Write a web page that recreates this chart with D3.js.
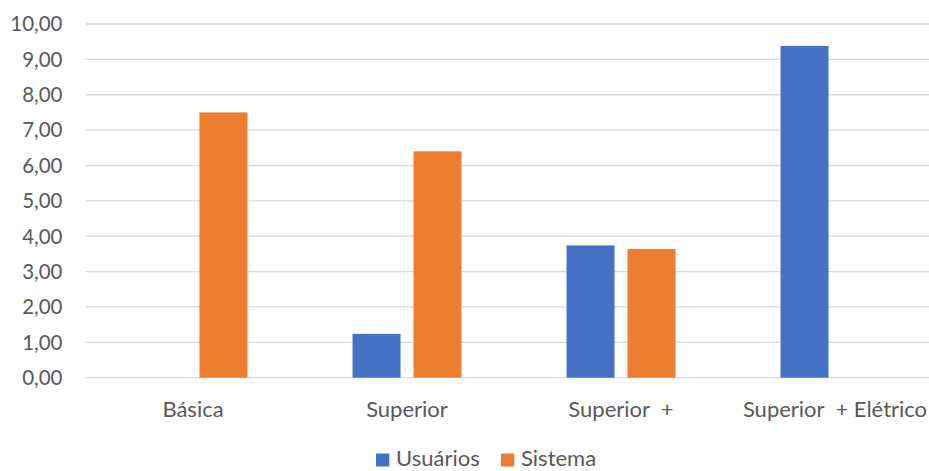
<!DOCTYPE html>
<html>
<head>
<meta charset="utf-8">
<script src="https://cdn.jsdelivr.net/npm/d3@7/dist/d3.min.js"></script>
<style>
  html, body { margin: 0; padding: 0; background: #fff; }
  svg { display: block; font-family: Lato, "Open Sans", sans-serif; }
  text { white-space: pre; }
</style>
</head>
<body>
<svg id="chart" width="929" height="471"></svg>
<script>
// Chart data
const categories = ["Básica", "Superior", "Superior  +", "Superior  + Elétrico"];
const seriesNames = ["Usuários", "Sistema"];
const usuarios = [0, 1.24, 3.74, 9.38];
const sistema = [7.50, 6.40, 3.64, 0];
const yTicks = [0, 1, 2, 3, 4, 5, 6, 7, 8, 9, 10];
const colors = ["#4472C4", "#ED7D31"];

const seriesValues = [usuarios, sistema];
const svg = d3.select("#chart");

const plotLeft = 86, plotRight = 942, plotTop = 24, plotBottom = 377.7;

const x = d3.scaleBand().domain(categories).range([plotLeft, plotRight]).paddingInner(0).paddingOuter(0);
const y = d3.scaleLinear().domain([0, 10]).range([plotBottom, plotTop]);

// Bar geometry: gap width 219%, overlap -27%
const gapWidth = 2.19, overlap = -0.27;
const barW = x.bandwidth() / (2 - overlap + gapWidth);
const groupW = barW * (2 - overlap);
const inner = d3.scaleOrdinal().domain(seriesNames)
  .range([0, barW * (1 - overlap)]);

// Gridlines
svg.append("g").selectAll("line").data(yTicks).join("line")
  .attr("x1", plotLeft).attr("x2", 929)
  .attr("y1", d => y(d)).attr("y2", d => y(d))
  .attr("stroke", "#d9d9d9").attr("stroke-width", 1.3);

// Y axis labels
const yFmt = d => d.toFixed(2).replace(".", ",");
svg.append("g").selectAll("text").data(yTicks).join("text")
  .attr("x", 62.5).attr("y", d => y(d)).attr("dy", "0.36em")
  .attr("text-anchor", "end")
  .attr("fill", "#595959").attr("font-size", 20.5)
  .text(yFmt);

// Bars
const rows = [];
seriesNames.forEach((s, si) => {
  categories.forEach((c, ci) => {
    rows.push({ series: s, si, cat: c, value: seriesValues[si][ci] });
  });
});
svg.append("g").selectAll("rect").data(rows.filter(d => d.value > 0)).join("rect")
  .attr("x", d => x(d.cat) + (x.bandwidth() - groupW) / 2 + inner(d.series))
  .attr("y", d => y(d.value))
  .attr("width", barW)
  .attr("height", d => y(0) - y(d.value))
  .attr("fill", d => colors[d.si]);

// Category labels
svg.append("g").selectAll("text").data(categories).join("text")
  .attr("x", d => x(d) + x.bandwidth() / 2)
  .attr("y", 416.5)
  .attr("text-anchor", "middle")
  .attr("fill", "#595959").attr("font-size", 22)
  .text(d => d);

// Legend
const legendItems = [
  { name: seriesNames[0], color: colors[0], x: 376 },
  { name: seriesNames[1], color: colors[1], x: 501 }
];
const lg = svg.append("g").selectAll("g").data(legendItems).join("g")
  .attr("transform", d => `translate(${d.x},0)`);
lg.append("rect").attr("x", 0).attr("y", 453.5).attr("width", 13.3).attr("height", 13)
  .attr("fill", d => d.color);
lg.append("text").attr("x", 20).attr("y", 466.3)
  .attr("fill", "#595959").attr("font-size", 22)
  .text(d => d.name);
</script>
</body>
</html>
